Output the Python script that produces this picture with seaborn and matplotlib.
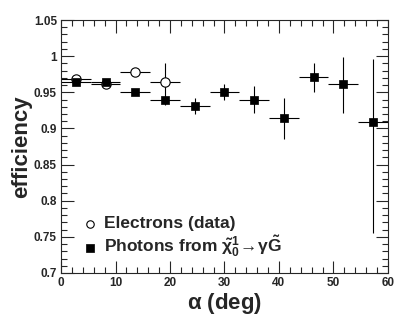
import numpy as np
import pandas as pd
import seaborn as sns
import matplotlib.pyplot as plt
from matplotlib.ticker import MultipleLocator

# bin centres: 11 bins across 0-60 deg
bin_edges = np.linspace(0, 60, 12)
centers = (bin_edges[:-1] + bin_edges[1:]) / 2
half_w = (bin_edges[1] - bin_edges[0]) / 2

# photons from neutralino decay
ph_eff = [0.964, 0.964, 0.950, 0.939, 0.931, 0.950, 0.940, 0.914, 0.971, 0.961, 0.909]
ph_err_lo = [0.003, 0.003, 0.003, 0.006, 0.011, 0.011, 0.018, 0.028, 0.021, 0.040, 0.154]
ph_err_hi = [0.003, 0.003, 0.003, 0.003, 0.011, 0.012, 0.018, 0.028, 0.020, 0.038, 0.087]

# electrons (data), first four bins
el_eff = [0.968, 0.961, 0.978, 0.964]
el_err = [0.002, 0.002, 0.003, 0.027]

ph = pd.DataFrame({'alpha': centers, 'eff': ph_eff, 'sample': 'photons'})
el = pd.DataFrame({'alpha': centers[:4], 'eff': el_eff, 'sample': 'electrons'})

sns.set_style("ticks")
plt.rcParams['font.family'] = ['Liberation Sans', 'DejaVu Sans']
plt.rcParams['font.weight'] = 'bold'
plt.rcParams['mathtext.fontset'] = 'custom'
plt.rcParams['mathtext.rm'] = 'Liberation Sans:bold'
plt.rcParams['mathtext.it'] = 'Liberation Sans:bold'
plt.rcParams['mathtext.bf'] = 'Liberation Sans:bold'

fig = plt.figure(figsize=(4.07, 3.2), dpi=100)
ax = fig.add_axes([0.150, 0.147, 0.803, 0.7905])

# error bars
ax.errorbar(el['alpha'], el['eff'], xerr=half_w, yerr=el_err, fmt='none',
            ecolor='black', elinewidth=0.8, capsize=0, zorder=2)
ax.errorbar(ph['alpha'], ph['eff'], xerr=half_w, yerr=[ph_err_lo, ph_err_hi], fmt='none',
            ecolor='black', elinewidth=0.8, capsize=0, zorder=2)

# markers
sns.scatterplot(data=el, x='alpha', y='eff', marker='o', s=45, facecolor='white',
                edgecolor='black', linewidth=0.8, ax=ax, zorder=3,
                label='Electrons (data)')
sns.scatterplot(data=ph, x='alpha', y='eff', marker='s', s=40, color='black',
                edgecolor='black', linewidth=0.5, ax=ax, zorder=4,
                label=r'Photons from $\tilde{\chi}_0^1\!\rightarrow\!\gamma\tilde{G}$')

ax.set_xlim(0, 60)
ax.set_ylim(0.7, 1.05)
ax.xaxis.set_major_locator(MultipleLocator(10))
ax.xaxis.set_minor_locator(MultipleLocator(2))
ax.yaxis.set_major_locator(MultipleLocator(0.05))
ax.yaxis.set_minor_locator(MultipleLocator(0.01))
ytick_vals = [0.7, 0.75, 0.8, 0.85, 0.9, 0.95, 1.0, 1.05]
ytick_labels = ['0.7', '0.75', '0.8', '0.85', '0.9', '0.95', '1', '1.05']
ax.set_yticks(ytick_vals)
ax.set_yticklabels(ytick_labels)
ax.tick_params(which='both', direction='in', top=True, right=True, labelsize=8.5, pad=3)
ax.tick_params(which='major', length=9, width=0.8)
ax.tick_params(which='minor', length=4.5, width=0.8)
for s in ax.spines.values():
    s.set_linewidth(0.8)

ax.set_xlabel(r'$\mathregular{\alpha}$ (deg)', fontsize=16, fontweight='bold')
ax.set_ylabel('efficiency', fontsize=16, fontweight='bold')
ax.xaxis.set_label_coords(0.5, -0.07)
ax.yaxis.set_label_coords(-0.09, 0.5)

leg = ax.legend(loc='lower left', bbox_to_anchor=(0.035, 0.02), frameon=False,
                fontsize=12.5, handletextpad=0.3, borderpad=0, labelspacing=0.15,
                handlelength=1.0, markerscale=0.8)
for t in leg.get_texts():
    t.set_fontweight('bold')

fig.savefig('out.png', dpi=100)
